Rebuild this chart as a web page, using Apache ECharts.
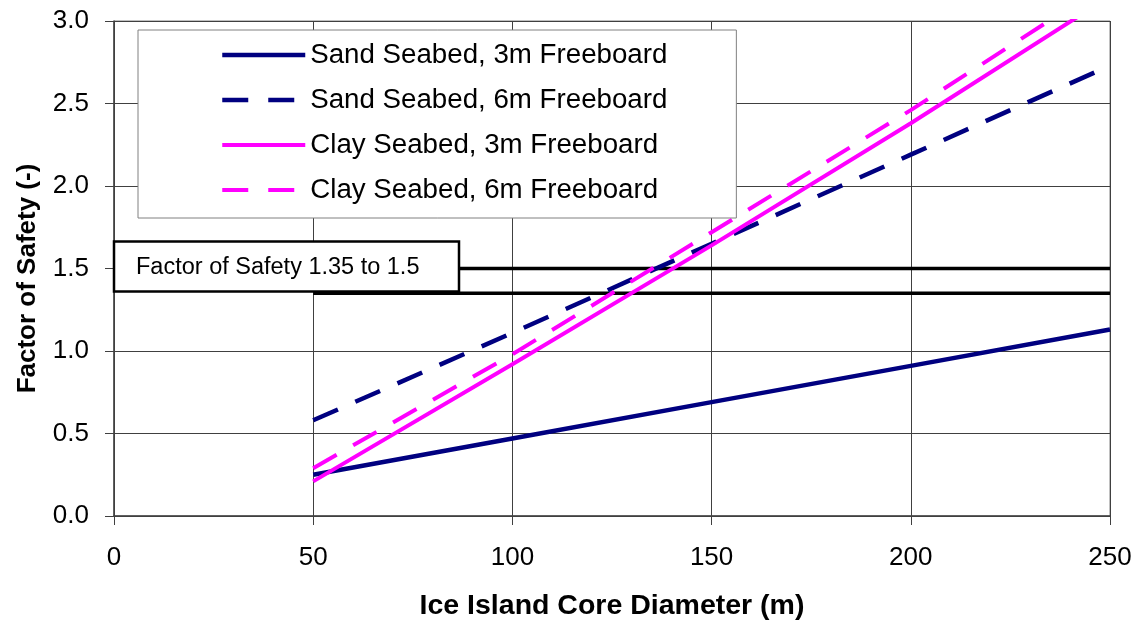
<!DOCTYPE html>
<html>
<head>
<meta charset="utf-8">
<script src="https://cdn.jsdelivr.net/npm/echarts@6/dist/echarts.min.js"></script>
<style>
  html, body { margin: 0; padding: 0; background: #fff; }
  #chart { width: 1141px; height: 626px; }
</style>
</head>
<body>
<div id="chart"></div>
<script>
// Ice island core diameter (m) at which each case was evaluated
const diameters = [50, 100, 150, 200, 250];
// Factor of safety for each seabed / freeboard case
const sand3m = [0.25, 0.47, 0.69, 0.91, 1.13];
const sand6m = [0.58, 1.11, 1.65, 2.19, 2.73];
const clay3m = [0.21, 0.92, 1.64, 2.38, 3.15];
const clay6m = [0.29, 0.98, 1.72, 2.46, 3.24];
// Target factor of safety band and the diameter span it is drawn over
const fosLimits = [1.35, 1.5];
const fosSpan = [50, 250];
const fosLabel = 'Factor of Safety 1.35 to 1.5';
const seriesNames = [
  'Sand Seabed, 3m Freeboard',
  'Sand Seabed, 6m Freeboard',
  'Clay Seabed, 3m Freeboard',
  'Clay Seabed, 6m Freeboard'
];

const FONT = '"Liberation Sans", Arial, sans-serif';
const NAVY = '#000080';
const MAGENTA = '#FF00FF';
const DASH = [27, 19];

const styles = [
  { color: NAVY, width: 4.5, dashed: false },
  { color: NAVY, width: 4.5, dashed: true },
  { color: MAGENTA, width: 4, dashed: false },
  { color: MAGENTA, width: 4, dashed: true }
];
const values = [sand3m, sand6m, clay3m, clay6m];

const pairs = ys => diameters.map((d, i) => [d, ys[i]]);

function caseSeries(i) {
  const s = styles[i];
  return {
    name: seriesNames[i],
    type: 'line',
    data: pairs(values[i]),
    symbol: 'none',
    clip: true,
    z: 3,
    lineStyle: { color: s.color, width: s.width, type: s.dashed ? DASH : 'solid' },
    itemStyle: { color: s.color },
    emphasis: { disabled: true }
  };
}

function limitSeries(value) {
  return {
    type: 'line',
    data: fosSpan.map(x => [x, value]),
    symbol: 'none',
    z: 2,
    silent: true,
    lineStyle: { color: '#000', width: 3.5 },
    emphasis: { disabled: true }
  };
}

const chart = echarts.init(document.getElementById('chart'), null, { renderer: 'canvas' });

const option = {
  animation: false,
  backgroundColor: '#fff',
  textStyle: { fontFamily: FONT },
  grid: {
    left: 114, top: 21, width: 996, height: 496,
    show: true, borderColor: '#808080', borderWidth: 1, backgroundColor: 'transparent'
  },
  legend: {
    data: seriesNames.map((name, i) => ({
      name: name,
      itemStyle: { opacity: 0 },
      lineStyle: {
        color: styles[i].color,
        width: styles[i].width,
        type: styles[i].dashed ? [26, 20] : 'solid',
        cap: 'butt'
      }
    })),
    orient: 'vertical',
    left: 138, top: 30,
    itemWidth: 83, itemHeight: 14, itemGap: 15,
    padding: [10, 69, 13, 82],
    backgroundColor: '#fff',
    borderColor: '#808080', borderWidth: 1, borderRadius: 0,
    selectedMode: false,
    textStyle: { fontFamily: FONT, fontSize: 27.7, lineHeight: 30, color: '#000' }
  },
  xAxis: {
    type: 'value',
    min: 0, max: 250, interval: 50,
    name: 'Ice Island Core Diameter (m)',
    nameLocation: 'middle', nameGap: 76,
    nameTextStyle: { fontFamily: FONT, fontSize: 28.5, fontWeight: 'bold', color: '#000' },
    axisLine: { show: true, onZero: false, lineStyle: { color: '#404040', width: 1.5 } },
    axisTick: { show: true, inside: false, length: 9, lineStyle: { color: '#404040', width: 1 } },
    axisLabel: { margin: 29, fontSize: 26, fontFamily: FONT, color: '#000' },
    splitLine: { show: true, lineStyle: { color: '#404040', width: 1 } }
  },
  yAxis: {
    type: 'value',
    min: 0, max: 3, interval: 0.5,
    name: 'Factor of Safety (-)',
    nameLocation: 'middle', nameGap: 73, nameRotate: 90,
    nameTextStyle: {
      fontFamily: FONT, fontSize: 26, fontWeight: 'bold', color: '#000',
      padding: [0, 20, 0, 0]
    },
    axisLine: { show: true, onZero: false, lineStyle: { color: '#404040', width: 1.5 } },
    axisTick: { show: true, inside: false, length: 9, lineStyle: { color: '#404040', width: 1 } },
    axisLabel: { margin: 25, fontSize: 26, fontFamily: FONT, color: '#000', formatter: v => v.toFixed(1) },
    splitLine: { show: true, lineStyle: { color: '#404040', width: 1 } }
  },
  series: [
    limitSeries(fosLimits[0]),
    limitSeries(fosLimits[1]),
    caseSeries(0),
    caseSeries(1),
    caseSeries(2),
    caseSeries(3)
  ]
};

chart.setOption(option);

// Label box for the target band, anchored at the y axis and centred on the upper limit
const anchor = chart.convertToPixel({ gridIndex: 0 }, [0, fosLimits[1]]);
const boxW = 345, boxH = 50;
chart.setOption({
  graphic: [{
    type: 'group',
    x: anchor[0], y: anchor[1] - boxH / 2 - 2,
    z: 100,
    children: [
      {
        type: 'rect',
        z: 100,
        shape: { x: 0, y: 0, width: boxW, height: boxH },
        style: { fill: '#fff', stroke: '#000', lineWidth: 2.5 }
      },
      {
        type: 'text',
        z: 101,
        x: 22, y: boxH / 2 + 1,
        style: {
          text: fosLabel, fill: '#000',
          font: '23.5px ' + FONT,
          verticalAlign: 'middle', align: 'left'
        }
      }
    ]
  }]
});
</script>
</body>
</html>
